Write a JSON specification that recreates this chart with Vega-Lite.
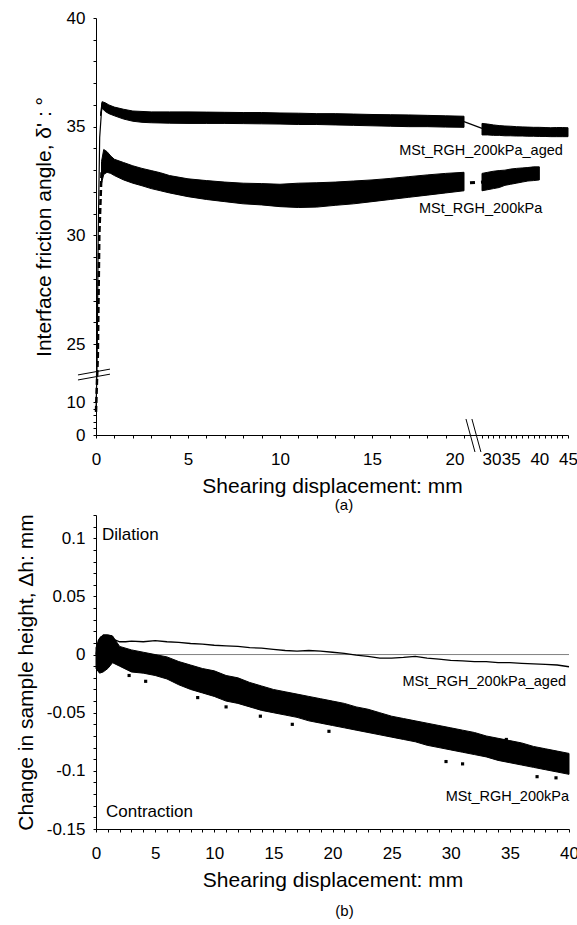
{
  "$schema": "https://vega.github.io/schema/vega-lite/v6.json",
  "background": "white",
  "padding": {"left": 15, "top": 9, "right": 0, "bottom": 0},
  "config": {
    "font": "Liberation Sans",
    "view": {"stroke": null},
    "axis": {
      "grid": false,
      "domainColor": "black",
      "domainWidth": 1,
      "tickColor": "black",
      "tickWidth": 1,
      "tickSize": 3,
      "labelColor": "black",
      "titleColor": "black",
      "labelFont": "Liberation Sans",
      "titleFont": "Liberation Sans",
      "labelFontSize": 17,
      "titleFontSize": 21,
      "titleFontWeight": "normal",
      "labelFlush": false
    },
    "title": {"font": "Liberation Sans", "fontWeight": "normal", "fontSize": 15, "color": "black"}
  },
  "spacing": 0,
  "vconcat": [
    {
      "width": 472,
      "height": 417,
      "title": {"text": "(a)", "orient": "bottom", "anchor": "middle", "frame": "group", "dx": 12, "offset": 2},
      "resolve": {"axis": {"x": "independent", "y": "independent"}},
      "layer": [
        {
          "data": {"name": "top_aged_band"},
          "mark": {"type": "area", "orient": "vertical", "color": "black", "stroke": "black", "strokeWidth": 1},
          "encoding": {
            "x": {
              "field": "x", "type": "quantitative",
              "scale": {"domain": [0, 20, 30, 45], "range": [0, 368, 386, 472], "nice": false, "zero": false},
              "axis": {
                "orient": "bottom",
                "title": "Shearing displacement: mm",
                "values": [0, 5, 10, 15, 20, 30, 35, 40, 45],
                "labelOverlap": false,
                "labelFlush": false,
                "labelAlign": {"condition": [{"test": "datum.value === 20", "value": "right"}, {"test": "datum.value === 30", "value": "left"}], "value": "center"},
                "encode": {"ticks": {"update": {"y": {"value": -3}}}},
                "labelPadding": 13,
                "titlePadding": 8
              }
            },
            "y": {
              "field": "hi", "type": "quantitative",
              "scale": {"domain": [0, 10, 25, 40], "range": [417, 384, 326, 0], "nice": false, "zero": false},
              "axis": {
                "orient": "left",
                "title": "Interface friction angle, δ' : °",
                "values": [0, 10, 25, 30, 35, 40],
                "labelOverlap": false,
                "encode": {"ticks": {"update": {"x": {"value": 3}}}},
                "labelPadding": 8,
                "titlePadding": 12
              }
            },
            "y2": {"field": "lo"},
            "detail": {"field": "seg"}
          }
        },
        {
          "data": {"name": "top_kpa_band"},
          "mark": {"type": "area", "orient": "vertical", "color": "black", "stroke": "black", "strokeWidth": 1},
          "encoding": {
            "x": {
              "field": "x", "type": "quantitative",
              "axis": {
                "orient": "bottom", "title": null, "labels": false, "domain": false,
                "values": [1,2,3,4,6,7,8,9,11,12,13,14,16,17,18,19,31,32,33,34,36,37,38,39,41,42,43,44],
                "encode": {"ticks": {"update": {"y": {"value": 0}, "y2": {"value": -3}}}}
              }
            },
            "y": {
              "field": "hi", "type": "quantitative",
              "axis": {
                "orient": "left", "title": null, "labels": false, "domain": false,
                "values": [2,4,6,8,26,27,28,29,31,32,33,34,36,37,38,39],
                "encode": {"ticks": {"update": {"x": {"value": 0}, "x2": {"value": 3}}}}
              }
            },
            "y2": {"field": "lo"},
            "detail": {"field": "seg"}
          }
        },
        {
          "data": {"name": "top_aged_lines"},
          "mark": {"type": "line", "color": "black", "strokeWidth": 1.2},
          "encoding": {
            "x": {"field": "x", "type": "quantitative", "axis": null},
            "y": {"field": "y", "type": "quantitative", "axis": null},
            "detail": {"field": "id"}
          }
        },
        {
          "data": {"name": "top_kpa_rise"},
          "mark": {"type": "line", "color": "black", "strokeWidth": 2.5, "strokeDash": [6, 3]},
          "encoding": {
            "x": {"field": "x", "type": "quantitative", "axis": null},
            "y": {"field": "y", "type": "quantitative", "axis": null}
          }
        },
        {
          "data": {"name": "top_kpa_conn"},
          "mark": {"type": "line", "color": "black", "strokeWidth": 3, "strokeDash": [5, 6], "strokeDashOffset": 5},
          "encoding": {
            "x": {"field": "x", "type": "quantitative", "axis": null},
            "y": {"field": "y", "type": "quantitative", "axis": null}
          }
        },
        {
          "data": {"name": "top_breaks"},
          "mark": {"type": "line", "color": "black", "strokeWidth": 1},
          "encoding": {
            "x": {"field": "x", "type": "quantitative", "axis": null},
            "y": {"field": "y", "type": "quantitative", "axis": null},
            "detail": {"field": "id"}
          }
        },
        {
          "data": {"name": "top_labels"},
          "mark": {"type": "text", "align": "right", "baseline": "middle", "fontSize": 14.5, "color": "black"},
          "encoding": {
            "x": {"field": "x", "type": "quantitative", "axis": null},
            "y": {"field": "y", "type": "quantitative", "axis": null},
            "text": {"field": "label"}
          }
        }
      ]
    },
    {
      "width": 473,
      "height": 314,
      "title": {"text": "(b)", "orient": "bottom", "anchor": "middle", "frame": "group", "dx": 12, "offset": 14},
      "resolve": {"axis": {"x": "independent", "y": "independent"}},
      "layer": [
        {
          "data": {"name": "zero_line"},
          "mark": {"type": "rule", "color": "#808080", "strokeWidth": 1},
          "encoding": {
            "x": {
              "field": "x0", "type": "quantitative",
              "scale": {"domain": [0, 40], "nice": false, "zero": false},
              "axis": {
                "orient": "bottom",
                "title": "Shearing displacement: mm",
                "values": [0, 5, 10, 15, 20, 25, 30, 35, 40],
                "labelOverlap": false,
                "labelFlush": false,
                "encode": {"ticks": {"update": {"y": {"value": -3}}}},
                "labelPadding": 13,
                "titlePadding": 8
              }
            },
            "x2": {"field": "x1"},
            "y": {
              "field": "y", "type": "quantitative",
              "scale": {"domain": [-0.15, 0.12], "nice": false, "zero": false},
              "axis": {
                "orient": "left",
                "title": "Change in sample height, Δh: mm",
                "values": [-0.15, -0.1, -0.05, 0, 0.05, 0.1],
                "labelExpr": "'' + datum.value",
                "labelOverlap": false,
                "encode": {"ticks": {"update": {"x": {"value": 3}}}},
                "labelPadding": 8,
                "titlePadding": 10
              }
            }
          }
        },
        {
          "data": {"name": "bot_kpa_band"},
          "mark": {"type": "area", "orient": "vertical", "color": "black", "stroke": "black", "strokeWidth": 1},
          "encoding": {
            "x": {
              "field": "x", "type": "quantitative",
              "axis": {
                "orient": "bottom", "title": null, "labels": false, "domain": false,
                "values": [1,2,3,4,6,7,8,9,11,12,13,14,16,17,18,19,21,22,23,24,26,27,28,29,31,32,33,34,36,37,38,39],
                "encode": {"ticks": {"update": {"y": {"value": 0}, "y2": {"value": -3}}}}
              }
            },
            "y": {
              "field": "hi", "type": "quantitative",
              "axis": {
                "orient": "left", "title": null, "labels": false, "domain": false,
                "values": [-0.14,-0.13,-0.12,-0.11,-0.09,-0.08,-0.07,-0.06,-0.04,-0.03,-0.02,-0.01,0.01,0.02,0.03,0.04,0.06,0.07,0.08,0.09,0.11,0.12],
                "encode": {"ticks": {"update": {"x": {"value": 0}, "x2": {"value": 3}}}}
              }
            },
            "y2": {"field": "lo"}
          }
        },
        {
          "data": {"name": "bot_kpa_dots"},
          "mark": {"type": "square", "color": "black", "filled": true, "size": 10, "opacity": 1},
          "encoding": {
            "x": {"field": "x", "type": "quantitative", "axis": null},
            "y": {"field": "y", "type": "quantitative", "axis": null}
          }
        },
        {
          "data": {"name": "bot_aged"},
          "mark": {"type": "line", "color": "black", "strokeWidth": 1.3},
          "encoding": {
            "x": {"field": "x", "type": "quantitative", "axis": null},
            "y": {"field": "y", "type": "quantitative", "axis": null}
          }
        },
        {
          "data": {"name": "bot_labels_left"},
          "mark": {"type": "text", "align": "left", "baseline": "middle", "fontSize": 17, "color": "black"},
          "encoding": {
            "x": {"field": "x", "type": "quantitative", "axis": null},
            "y": {"field": "y", "type": "quantitative", "axis": null},
            "text": {"field": "label"}
          }
        },
        {
          "data": {"name": "bot_labels_right"},
          "mark": {"type": "text", "align": "right", "baseline": "middle", "fontSize": 14.5, "color": "black"},
          "encoding": {
            "x": {"field": "x", "type": "quantitative", "axis": null},
            "y": {"field": "y", "type": "quantitative", "axis": null},
            "text": {"field": "label"}
          }
        }
      ]
    }
  ],
  "datasets": {
    "top_aged_band": [
      {"seg": "a", "x": 0.25, "hi": 35.6, "lo": 35.5},
      {"seg": "a", "x": 0.33, "hi": 36.15, "lo": 35.85},
      {"seg": "a", "x": 0.5, "hi": 36.1, "lo": 35.7},
      {"seg": "a", "x": 0.7, "hi": 36.0, "lo": 35.6},
      {"seg": "a", "x": 1.0, "hi": 35.9, "lo": 35.5},
      {"seg": "a", "x": 1.5, "hi": 35.8, "lo": 35.35},
      {"seg": "a", "x": 2.0, "hi": 35.72, "lo": 35.25},
      {"seg": "a", "x": 2.5, "hi": 35.7, "lo": 35.2},
      {"seg": "a", "x": 3, "hi": 35.68, "lo": 35.18},
      {"seg": "a", "x": 4, "hi": 35.68, "lo": 35.16},
      {"seg": "a", "x": 5, "hi": 35.68, "lo": 35.15},
      {"seg": "a", "x": 6, "hi": 35.67, "lo": 35.15},
      {"seg": "a", "x": 7, "hi": 35.66, "lo": 35.15},
      {"seg": "a", "x": 8, "hi": 35.65, "lo": 35.14},
      {"seg": "a", "x": 9, "hi": 35.65, "lo": 35.13},
      {"seg": "a", "x": 10, "hi": 35.63, "lo": 35.12},
      {"seg": "a", "x": 11, "hi": 35.62, "lo": 35.1},
      {"seg": "a", "x": 12, "hi": 35.6, "lo": 35.1},
      {"seg": "a", "x": 13, "hi": 35.6, "lo": 35.08},
      {"seg": "a", "x": 14, "hi": 35.58, "lo": 35.06},
      {"seg": "a", "x": 15, "hi": 35.56, "lo": 35.04},
      {"seg": "a", "x": 16, "hi": 35.55, "lo": 35.02},
      {"seg": "a", "x": 17, "hi": 35.54, "lo": 35.0},
      {"seg": "a", "x": 18, "hi": 35.52, "lo": 35.0},
      {"seg": "a", "x": 19, "hi": 35.5, "lo": 34.98},
      {"seg": "a", "x": 20, "hi": 35.48, "lo": 34.97},
      {"seg": "b", "x": 30, "hi": 35.15, "lo": 34.62},
      {"seg": "b", "x": 31, "hi": 35.12, "lo": 34.62},
      {"seg": "b", "x": 32, "hi": 35.08, "lo": 34.6},
      {"seg": "b", "x": 33, "hi": 35.05, "lo": 34.6},
      {"seg": "b", "x": 34, "hi": 35.03, "lo": 34.58},
      {"seg": "b", "x": 35, "hi": 35.02, "lo": 34.58},
      {"seg": "b", "x": 36, "hi": 35.0, "lo": 34.57},
      {"seg": "b", "x": 37, "hi": 34.99, "lo": 34.57},
      {"seg": "b", "x": 38, "hi": 34.98, "lo": 34.56},
      {"seg": "b", "x": 39, "hi": 34.97, "lo": 34.56},
      {"seg": "b", "x": 40, "hi": 34.97, "lo": 34.55},
      {"seg": "b", "x": 41, "hi": 34.96, "lo": 34.55},
      {"seg": "b", "x": 42, "hi": 34.95, "lo": 34.54},
      {"seg": "b", "x": 43, "hi": 34.96, "lo": 34.54},
      {"seg": "b", "x": 44, "hi": 34.96, "lo": 34.54},
      {"seg": "b", "x": 45, "hi": 34.95, "lo": 34.54}
    ],
    "top_kpa_band": [
      {"seg": "a", "x": 0.3, "hi": 33.4, "lo": 32.4},
      {"seg": "a", "x": 0.42, "hi": 33.95, "lo": 32.8},
      {"seg": "a", "x": 0.6, "hi": 33.85, "lo": 32.9},
      {"seg": "a", "x": 0.8, "hi": 33.65, "lo": 32.85},
      {"seg": "a", "x": 1.0, "hi": 33.5, "lo": 32.75},
      {"seg": "a", "x": 1.5, "hi": 33.35, "lo": 32.55},
      {"seg": "a", "x": 2.0, "hi": 33.2, "lo": 32.4},
      {"seg": "a", "x": 2.5, "hi": 33.08, "lo": 32.28},
      {"seg": "a", "x": 3.0, "hi": 32.98, "lo": 32.15},
      {"seg": "a", "x": 3.5, "hi": 32.88, "lo": 32.05},
      {"seg": "a", "x": 4, "hi": 32.75, "lo": 31.95},
      {"seg": "a", "x": 5, "hi": 32.6, "lo": 31.78},
      {"seg": "a", "x": 6, "hi": 32.52, "lo": 31.65},
      {"seg": "a", "x": 7, "hi": 32.45, "lo": 31.55},
      {"seg": "a", "x": 8, "hi": 32.4, "lo": 31.45},
      {"seg": "a", "x": 9, "hi": 32.38, "lo": 31.4},
      {"seg": "a", "x": 10, "hi": 32.35, "lo": 31.32},
      {"seg": "a", "x": 11, "hi": 32.4, "lo": 31.28},
      {"seg": "a", "x": 12, "hi": 32.42, "lo": 31.3},
      {"seg": "a", "x": 13, "hi": 32.45, "lo": 31.38},
      {"seg": "a", "x": 14, "hi": 32.5, "lo": 31.45},
      {"seg": "a", "x": 15, "hi": 32.55, "lo": 31.55},
      {"seg": "a", "x": 16, "hi": 32.62, "lo": 31.65},
      {"seg": "a", "x": 17, "hi": 32.7, "lo": 31.75},
      {"seg": "a", "x": 18, "hi": 32.78, "lo": 31.85},
      {"seg": "a", "x": 19, "hi": 32.85, "lo": 31.95},
      {"seg": "a", "x": 20, "hi": 32.9, "lo": 32.05},
      {"seg": "b", "x": 30, "hi": 32.85, "lo": 32.05},
      {"seg": "b", "x": 31, "hi": 32.9, "lo": 32.1},
      {"seg": "b", "x": 32, "hi": 32.95, "lo": 32.15},
      {"seg": "b", "x": 33, "hi": 32.98, "lo": 32.2},
      {"seg": "b", "x": 34, "hi": 33.0, "lo": 32.3},
      {"seg": "b", "x": 35, "hi": 33.05, "lo": 32.35},
      {"seg": "b", "x": 36, "hi": 33.08, "lo": 32.4},
      {"seg": "b", "x": 37, "hi": 33.1, "lo": 32.45},
      {"seg": "b", "x": 38, "hi": 33.12, "lo": 32.5},
      {"seg": "b", "x": 39, "hi": 33.15, "lo": 32.52},
      {"seg": "b", "x": 40, "hi": 33.15, "lo": 32.55}
    ],
    "top_aged_lines": [
      {"id": "rise", "x": 0, "y": 7},
      {"id": "rise", "x": 0.06, "y": 20},
      {"id": "rise", "x": 0.12, "y": 30},
      {"id": "rise", "x": 0.2, "y": 34.5},
      {"id": "rise", "x": 0.33, "y": 36.1},
      {"id": "conn", "x": 20, "y": 35.23},
      {"id": "conn", "x": 30, "y": 34.92}
    ],
    "top_kpa_rise": [
      {"x": 0, "y": 7},
      {"x": 0.05, "y": 15},
      {"x": 0.1, "y": 22},
      {"x": 0.18, "y": 30},
      {"x": 0.3, "y": 32.9}
    ],
    "top_kpa_conn": [
      {"x": 20, "y": 32.4},
      {"x": 30, "y": 32.45}
    ],
    "top_breaks": [
      {"id": "y1", "x": -0.98, "y": 17.0},
      {"id": "y1", "x": 0.76, "y": 18.5},
      {"id": "y2", "x": -0.98, "y": 15.7},
      {"id": "y2", "x": 0.76, "y": 17.2},
      {"id": "x1", "x": 21.1, "y": 4.85},
      {"id": "x1", "x": 26.1, "y": -5.15},
      {"id": "x2", "x": 24.4, "y": 4.85},
      {"id": "x2", "x": 29.4, "y": -5.15}
    ],
    "top_labels": [
      {"x": 44.1, "y": 33.9, "label": "MSt_RGH_200kPa_aged"},
      {"x": 40.5, "y": 31.2, "label": "MSt_RGH_200kPa"}
    ],
    "zero_line": [
      {"x0": 0, "x1": 40, "y": 0}
    ],
    "bot_kpa_band": [
      {"x": 0, "hi": 0.006, "lo": -0.012},
      {"x": 0.3, "hi": 0.014, "lo": -0.016},
      {"x": 0.6, "hi": 0.017, "lo": -0.015},
      {"x": 1.0, "hi": 0.017, "lo": -0.012},
      {"x": 1.4, "hi": 0.016, "lo": -0.007},
      {"x": 2, "hi": 0.007, "lo": -0.01},
      {"x": 3, "hi": 0.004, "lo": -0.015},
      {"x": 4, "hi": 0.002, "lo": -0.016},
      {"x": 5, "hi": 0.0, "lo": -0.018},
      {"x": 6, "hi": -0.002, "lo": -0.021},
      {"x": 7, "hi": -0.006, "lo": -0.026},
      {"x": 8, "hi": -0.009, "lo": -0.03},
      {"x": 9, "hi": -0.012, "lo": -0.033},
      {"x": 10, "hi": -0.014, "lo": -0.036},
      {"x": 11, "hi": -0.018, "lo": -0.04},
      {"x": 12, "hi": -0.02, "lo": -0.042},
      {"x": 13, "hi": -0.024, "lo": -0.045},
      {"x": 14, "hi": -0.027, "lo": -0.048},
      {"x": 15, "hi": -0.03, "lo": -0.05},
      {"x": 16, "hi": -0.032, "lo": -0.052},
      {"x": 17, "hi": -0.034, "lo": -0.054},
      {"x": 18, "hi": -0.036, "lo": -0.057},
      {"x": 19, "hi": -0.038, "lo": -0.059},
      {"x": 20, "hi": -0.04, "lo": -0.061},
      {"x": 21, "hi": -0.042, "lo": -0.063},
      {"x": 22, "hi": -0.045, "lo": -0.065},
      {"x": 23, "hi": -0.047, "lo": -0.067},
      {"x": 24, "hi": -0.05, "lo": -0.069},
      {"x": 25, "hi": -0.053, "lo": -0.071},
      {"x": 26, "hi": -0.055, "lo": -0.073},
      {"x": 27, "hi": -0.057, "lo": -0.075},
      {"x": 28, "hi": -0.059, "lo": -0.078},
      {"x": 29, "hi": -0.061, "lo": -0.08},
      {"x": 30, "hi": -0.063, "lo": -0.082},
      {"x": 31, "hi": -0.065, "lo": -0.084},
      {"x": 32, "hi": -0.067, "lo": -0.086},
      {"x": 33, "hi": -0.07, "lo": -0.088},
      {"x": 34, "hi": -0.072, "lo": -0.091},
      {"x": 35, "hi": -0.074, "lo": -0.093},
      {"x": 36, "hi": -0.076, "lo": -0.095},
      {"x": 37, "hi": -0.079, "lo": -0.097},
      {"x": 38, "hi": -0.081, "lo": -0.099},
      {"x": 39, "hi": -0.083, "lo": -0.101},
      {"x": 40, "hi": -0.085, "lo": -0.103}
    ],
    "bot_kpa_dots": [
      {"x": 2.8, "y": -0.018},
      {"x": 4.2, "y": -0.023},
      {"x": 8.6, "y": -0.037},
      {"x": 11.0, "y": -0.045},
      {"x": 13.9, "y": -0.053},
      {"x": 16.6, "y": -0.06},
      {"x": 19.7, "y": -0.066},
      {"x": 29.6, "y": -0.092},
      {"x": 31.0, "y": -0.094},
      {"x": 34.7, "y": -0.073},
      {"x": 37.3, "y": -0.105},
      {"x": 38.9, "y": -0.106}
    ],
    "bot_aged": [
      {"x": 0, "y": 0.0},
      {"x": 0.2, "y": 0.012},
      {"x": 0.4, "y": 0.015},
      {"x": 0.7, "y": 0.016},
      {"x": 1.0, "y": 0.016},
      {"x": 1.3, "y": 0.016},
      {"x": 1.5, "y": 0.013},
      {"x": 2.0, "y": 0.011},
      {"x": 2.5, "y": 0.011},
      {"x": 3, "y": 0.0115},
      {"x": 4, "y": 0.011},
      {"x": 5, "y": 0.012},
      {"x": 6, "y": 0.011},
      {"x": 7, "y": 0.0105},
      {"x": 8, "y": 0.0095},
      {"x": 9, "y": 0.009},
      {"x": 10, "y": 0.008},
      {"x": 11, "y": 0.0075},
      {"x": 12, "y": 0.007},
      {"x": 13, "y": 0.006},
      {"x": 14, "y": 0.0055},
      {"x": 15, "y": 0.0045},
      {"x": 16, "y": 0.0035},
      {"x": 17, "y": 0.003},
      {"x": 18, "y": 0.0035},
      {"x": 19, "y": 0.003},
      {"x": 20, "y": 0.002},
      {"x": 21, "y": 0.001},
      {"x": 22, "y": -0.0005},
      {"x": 23, "y": -0.0015},
      {"x": 24, "y": -0.003},
      {"x": 25, "y": -0.003},
      {"x": 26, "y": -0.0025},
      {"x": 27, "y": -0.0015},
      {"x": 28, "y": -0.003},
      {"x": 29, "y": -0.004},
      {"x": 30, "y": -0.005},
      {"x": 31, "y": -0.0055},
      {"x": 32, "y": -0.006},
      {"x": 33, "y": -0.006},
      {"x": 34, "y": -0.007},
      {"x": 35, "y": -0.007},
      {"x": 36, "y": -0.0075},
      {"x": 37, "y": -0.008},
      {"x": 38, "y": -0.0085},
      {"x": 39, "y": -0.009},
      {"x": 40, "y": -0.0105}
    ],
    "bot_labels_left": [
      {"x": 0.5, "y": 0.103, "label": "Dilation"},
      {"x": 0.85, "y": -0.1355, "label": "Contraction"}
    ],
    "bot_labels_right": [
      {"x": 39.75, "y": -0.0232, "label": "MSt_RGH_200kPa_aged"},
      {"x": 40.0, "y": -0.1226, "label": "MSt_RGH_200kPa"}
    ]
  }
}
